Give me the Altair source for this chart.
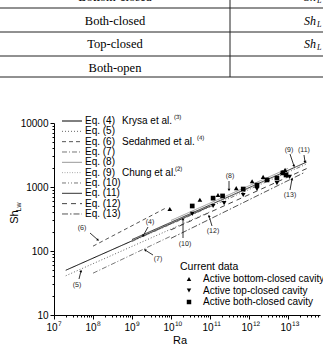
import math
import altair as alt
import pandas as pd

# ---------------- data ----------------
eq_labels = ["Eq. (4)", "Eq. (5)", "Eq. (6)", "Eq. (7)", "Eq. (8)", "Eq. (9)",
             "Eq. (10)", "Eq. (11)", "Eq. (12)", "Eq. (13)"]
eq_ra_start = [2.0e7, 2.0e7, 1.0e8, 1.0e8, 1.0e10, 1.0e9, 1.0e9, 1.0e9, 1.0e10, 1.0e10]
eq_ra_end = [1.0e11, 1.0e11, 7.0e9, 1.0e10, 1.0e13, 1.5e13, 3.0e13, 3.0e13, 3.0e13, 2.5e13]
eq_sh_start = [50, 41, 119, 45, 300, 148, 141, 151, 214, 158]
eq_sh_end = [500, 410, 462, 171, 1950, 2000, 2290, 2450, 1940, 1660]

bottom_ra = [9.3e9, 5.5e10, 1.6e11, 4.7e11, 1.2e12, 2.3e12, 7.1e12, 8.4e12]
bottom_sh = [453, 631, 750, 960, 1230, 1440, 1710, 1850]
top_ra = [3.5e10, 1.2e11, 2.3e11, 7.1e11, 1.6e12, 5.2e12, 1.1e13]
top_sh = [380, 505, 560, 750, 930, 1150, 1440]
both_ra = [3.5e10, 1.2e11, 2.1e11, 7.1e11, 1.6e12, 2.9e12, 5.2e12, 7.4e12, 8.9e12]
both_sh = [505, 670, 725, 930, 1070, 1290, 1380, 1660, 1540]

series_names = ["Active bottom-closed cavity", "Active top-closed cavity",
                "Active both-closed cavity"]

table_rows = ["Bottom-closed", "Both-closed", "Top-closed", "Both-open"]
authors = ["Krysa et al.", "Sedahmed et al.", "Chung et al."]
author_refs = ["(3)", "(4)", "(2)"]
author_rows = [0, 2, 5]
decades = [1e7, 1e8, 1e9, 1e10, 1e11, 1e12, 1e13]
decade_exp = ["7", "8", "9", "10", "11", "12", "13"]

# ---------------- styles ----------------
L, T = 54, 123
W, H = 266, 192
SANS = "Liberation Sans"
SERIF = "Liberation Serif"
eq_colors = ["#000000", "#666666", "#555555", "#777777", "#9a9a9a", "#aaaaaa",
             "#777777", "#333333", "#444444", "#555555"]
eq_dashes = [[1, 0], [1, 2], [4, 3], [5, 2, 1, 2], [1, 0], [1, 1.5],
             [4, 2, 1, 2, 1, 2], [1, 0], [5, 4], [6, 2, 1.5, 2]]

rows = []
for i, name in enumerate(eq_labels):
    rows.append({"eq": name, "Ra": eq_ra_start[i], "Sh": eq_sh_start[i], "o": 0})
    rows.append({"eq": name, "Ra": eq_ra_end[i], "Sh": eq_sh_end[i], "o": 1})
lines_df = pd.DataFrame(rows)

pts = []
for ra, sh in zip(bottom_ra, bottom_sh):
    pts.append({"s": series_names[0], "Ra": ra, "Sh": sh})
for ra, sh in zip(top_ra, top_sh):
    pts.append({"s": series_names[1], "Ra": ra, "Sh": sh})
for ra, sh in zip(both_ra, both_sh):
    pts.append({"s": series_names[2], "Ra": ra, "Sh": sh})
pts_df = pd.DataFrame(pts)

dec_df = pd.DataFrame({"Ra": decades, "e": decade_exp})
one = pd.DataFrame({"a": [0]})

xmax = 10 ** 13.82
xs = alt.Scale(type="log", domain=[1e7, xmax], nice=False)
ys = alt.Scale(type="log", domain=[10, 10000], nice=False)

x_vals = [m * 10 ** k for k in range(7, 14) for m in range(1, 10) if m * 10 ** k <= xmax]
y_vals = [m * 10 ** k for k in range(1, 4) for m in range(1, 10)] + [10000]
y_expr = "".join(f"datum.value == {10 ** k} ? '{10 ** k}' : " for k in range(1, 5)) + "''"
major = "abs(log(datum.value)/LN10 - round(log(datum.value)/LN10)) < 1e-6"
tick_size = {"condition": {"test": major, "value": 4}, "value": 2}

x_axis = alt.Axis(values=x_vals, labels=False, tickSize=tick_size, title=None,
                  grid=False, domainColor="black", tickColor="black")
y_axis = alt.Axis(values=y_vals, labelExpr=y_expr, tickSize=tick_size, title=None,
                  grid=False, labelFont=SANS, labelFontSize=10, labelColor="black",
                  domainColor="black", tickColor="black", labelPadding=2,
                  labelFlush=False, labelOverlap=False)

lines = alt.Chart(lines_df).mark_line(strokeWidth=1).encode(
    x=alt.X("Ra:Q", scale=xs, axis=x_axis),
    y=alt.Y("Sh:Q", scale=ys, axis=y_axis),
    color=alt.Color("eq:N", scale=alt.Scale(domain=eq_labels, range=eq_colors), legend=None),
    strokeDash=alt.StrokeDash("eq:N", scale=alt.Scale(domain=eq_labels, range=eq_dashes), legend=None),
    detail="eq:N",
    order="o:Q",
)

points = alt.Chart(pts_df).mark_point(filled=True, size=22, opacity=1, color="black").encode(
    x=alt.X("Ra:Q", scale=xs),
    y=alt.Y("Sh:Q", scale=ys),
    shape=alt.Shape("s:N", scale=alt.Scale(domain=series_names,
                                           range=["triangle-up", "triangle-down", "square"]),
                    legend=None),
)

# x tick labels: "10" with a raised exponent
x_base = alt.Chart(dec_df).mark_text(text="10", align="center", baseline="middle", font=SANS,
                                     fontSize=10, color="black", dx=-2).encode(
    x=alt.X("Ra:Q", scale=xs), y=alt.value(328 - T))
x_exp = alt.Chart(dec_df).mark_text(align="left", baseline="middle", font=SANS,
                                    fontSize=6.5, color="black", dx=4, angle=0.2).encode(
    x=alt.X("Ra:Q", scale=xs), y=alt.value(324 - T), text="e:N")


def txt(s, x, y, size=10, font=SANS, align="left", color="black", **kw):
    return alt.Chart(one).mark_text(text=s, align=align, baseline="middle", font=font,
                                    fontSize=size, color=color, **kw).encode(
        x=alt.value(x - L), y=alt.value(y - T))


def rule(x1, y1, x2, y2, color="black", width=1, dash=None):
    kw = {"strokeDash": dash} if dash else {}
    return alt.Chart(one).mark_rule(color=color, strokeWidth=width, **kw).encode(
        x=alt.value(x1 - L), x2=alt.value(x2 - L), y=alt.value(y1 - T), y2=alt.value(y2 - T))


layers = [lines, points, x_base, x_exp]

# equation legend
leg_top, leg_step = 121, 10.33
for i, name in enumerate(eq_labels):
    yy = leg_top + i * leg_step
    layers.append(rule(62, yy, 82, yy, color=eq_colors[i], dash=eq_dashes[i]))
    layers.append(txt(name, 85, yy))
author_ref_x = [174, 197, 175]
for a, rf, r, rx in zip(authors, author_refs, author_rows, author_ref_x):
    yy = leg_top + r * leg_step
    layers.append(txt(a, 122, yy))
    layers.append(txt(rf, rx, yy - 4, size=6, angle=0.2))

# current-data legend
layers.append(txt("Current data", 180, 267, size=10.5))
shapes = ["triangle-up", "triangle-down", "square"]
for j, name in enumerate(series_names):
    yy = 279 + j * 11.5
    layers.append(alt.Chart(one).mark_point(shape=shapes[j], filled=True, size=20,
                                            opacity=1, color="black").encode(
        x=alt.value(189 - L), y=alt.value(yy - T)))
    layers.append(txt(name, 203, yy))

# annotations with arrows
ann = [  # tag, label pos, arrow from, arrow tip
    ("(4)", (150, 222), (148, 227), (143, 236)),
    ("(5)", (77, 285), (79, 279), (81, 271)),
    ("(6)", (82, 228), (90, 233), (98, 240)),
    ("(7)", (158, 259), (153, 255), (145, 250)),
    ("(8)", (230, 176), (229, 181), (229, 190)),
    ("(9)", (289, 150), (290, 154), (294, 166)),
    ("(10)", (185, 244), (183, 238), (183, 219)),
    ("(11)", (304, 150), (304, 155), (305, 162)),
    ("(12)", (213, 231), (212, 226), (209, 216)),
    ("(13)", (290, 195), (290, 190), (292, 179)),
]
for tag, (lx, ly), (ax, ay), (bx, by) in ann:
    layers.append(txt(tag, lx, ly, size=7, align="center", color="#222222", angle=0.2))
    layers.append(rule(ax, ay, bx, by, width=0.8))
    ang = math.degrees(math.atan2(bx - ax, -(by - ay))) % 360
    layers.append(alt.Chart(one).mark_point(shape="triangle-up", filled=True, size=8,
                                            opacity=1, color="black", angle=ang).encode(
        x=alt.value(bx - L), y=alt.value(by - T)))

# axis titles
layers.append(txt("Sh", 15, 217, size=11, align="center", angle=270))
layers.append(txt("Lw", 19, 207, size=7, align="center", angle=270))
layers.append(txt("Ra", 180, 341, size=11, align="center"))

# table on top
for yy in [8, 32, 56, 77]:
    layers.append(rule(0, yy, 323, yy, color="#222222", width=1))
layers.append(rule(230, -5, 230, 77, color="#222222", width=1))
for k, name in enumerate(table_rows):
    layers.append(txt(name, 115, -3 + k * 23.5, size=12.5, font=SERIF, align="center"))
for k in range(3):
    cy = -3 + k * 23.5
    layers.append(txt("Sh", 304, cy, size=12, font=SERIF, fontStyle="italic"))
    layers.append(txt("L", 317, cy + 4, size=8, font=SERIF, fontStyle="italic"))

chart = alt.layer(*layers).properties(
    width=W, height=H,
    autosize=alt.AutoSizeParams(type="none"),
    padding={"left": L, "top": T, "right": 323 - L - W, "bottom": 346 - T - H},
    background="white",
).configure_view(stroke=None)

chart.save("out.html", embed_options={"renderer": "svg", "actions": False})
